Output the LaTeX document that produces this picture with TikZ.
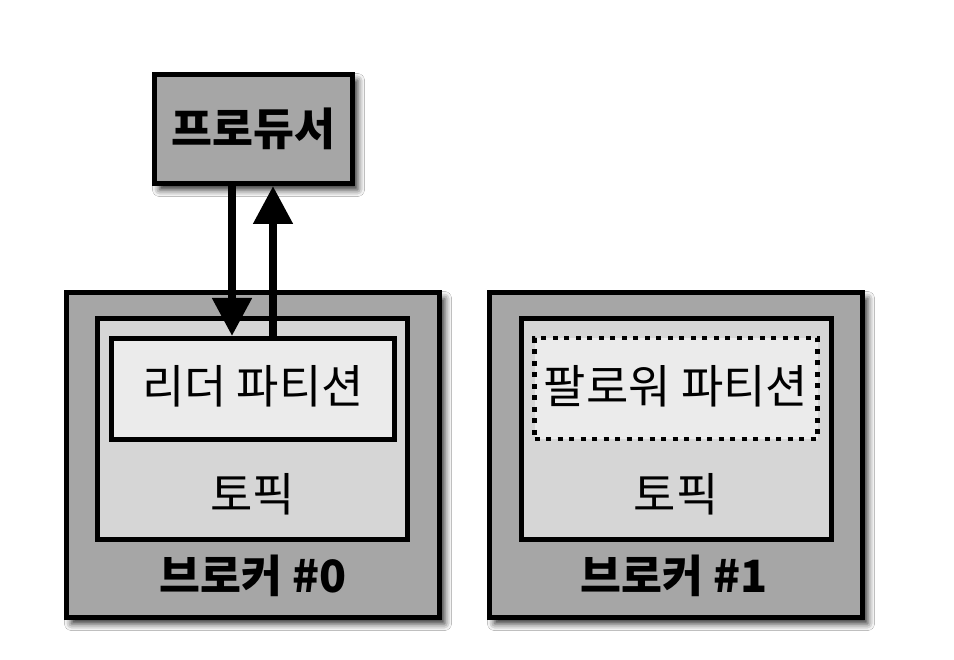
\documentclass[tikz,border=0pt]{standalone}
\usepackage{fontspec}
\newfontfamily\kr{Noto Sans CJK KR}
\usetikzlibrary{arrows.meta,shadows.blur}
\definecolor{dgray}{HTML}{A6A6A6}
\definecolor{mgray}{HTML}{D6D6D6}
\definecolor{lgray}{HTML}{EBEBEB}
\newcommand{\krsize}{\fontsize{46pt}{50pt}\selectfont}
\newcommand{\krbsize}{\fontsize{44.5pt}{48pt}\selectfont}
\tikzset{
  shad/.style={blur shadow={shadow xshift=5pt,shadow yshift=-6pt,shadow blur radius=7pt,shadow opacity=85}},
  boxbase/.style={draw=black,line width=5pt,inner sep=0pt},
  prodbox/.style={boxbase,fill=dgray,shad,minimum width=198pt,minimum height=109pt,font=\kr\bfseries\krbsize},
  brokerbox/.style={boxbase,fill=dgray,shad,minimum width=373pt,minimum height=325pt},
  topicbox/.style={boxbase,fill=mgray,minimum width=310pt,minimum height=221pt},
  partbox/.style={boxbase,fill=lgray,minimum width=283pt,minimum height=101pt},
  follbox/.style={partbox,line width=4.5pt,dash pattern=on 5pt off 6.5pt},
  lbl/.style={inner sep=0pt,font=\kr\krsize},
  blbl/.style={inner sep=0pt,font=\kr\bfseries\krbsize},
  arr/.style={line width=8pt,-{Triangle[width=38pt,length=38pt]}}
}
\begin{document}
\begin{tikzpicture}[x=1pt,y=-1pt]
\useasboundingbox[fill=white] (0,0) rectangle (954,660);
% producer
\node[prodbox] (prod) at (253.5,129) {프로듀서};
% brokers
\node[brokerbox] (b0) at (253,455) {};
\node[brokerbox] (b1) at (676,455) {};
\node[topicbox] (t0) at (252.5,429) {};
\node[topicbox] (t1) at (676,429) {};
\node[partbox] (leader) at (253,389) {};
\node[follbox] (foll) at (676,388.5) {};
% labels
\node[lbl] (leadertxt) at (253,386) {리더 파티션};
\node[lbl] (folltxt) at (676,386) {팔로워 파티션};
\node[lbl] (t0txt) at (252.5,494) {토픽};
\node[lbl] (t1txt) at (676,494) {토픽};
\node[blbl] (b0txt) at (253,576) {브로커 \#0};
\node[blbl] (b1txt) at (674,576) {브로커 \#1};
% arrows
\draw[arr] ([xshift=-21.5pt]prod.south) -- ([xshift=-21.5pt]prod.south |- leader.north);
\draw[arr] ([xshift=19.5pt]prod.south |- leader.north) -- ([xshift=19.5pt]prod.south);
\end{tikzpicture}
\end{document}
